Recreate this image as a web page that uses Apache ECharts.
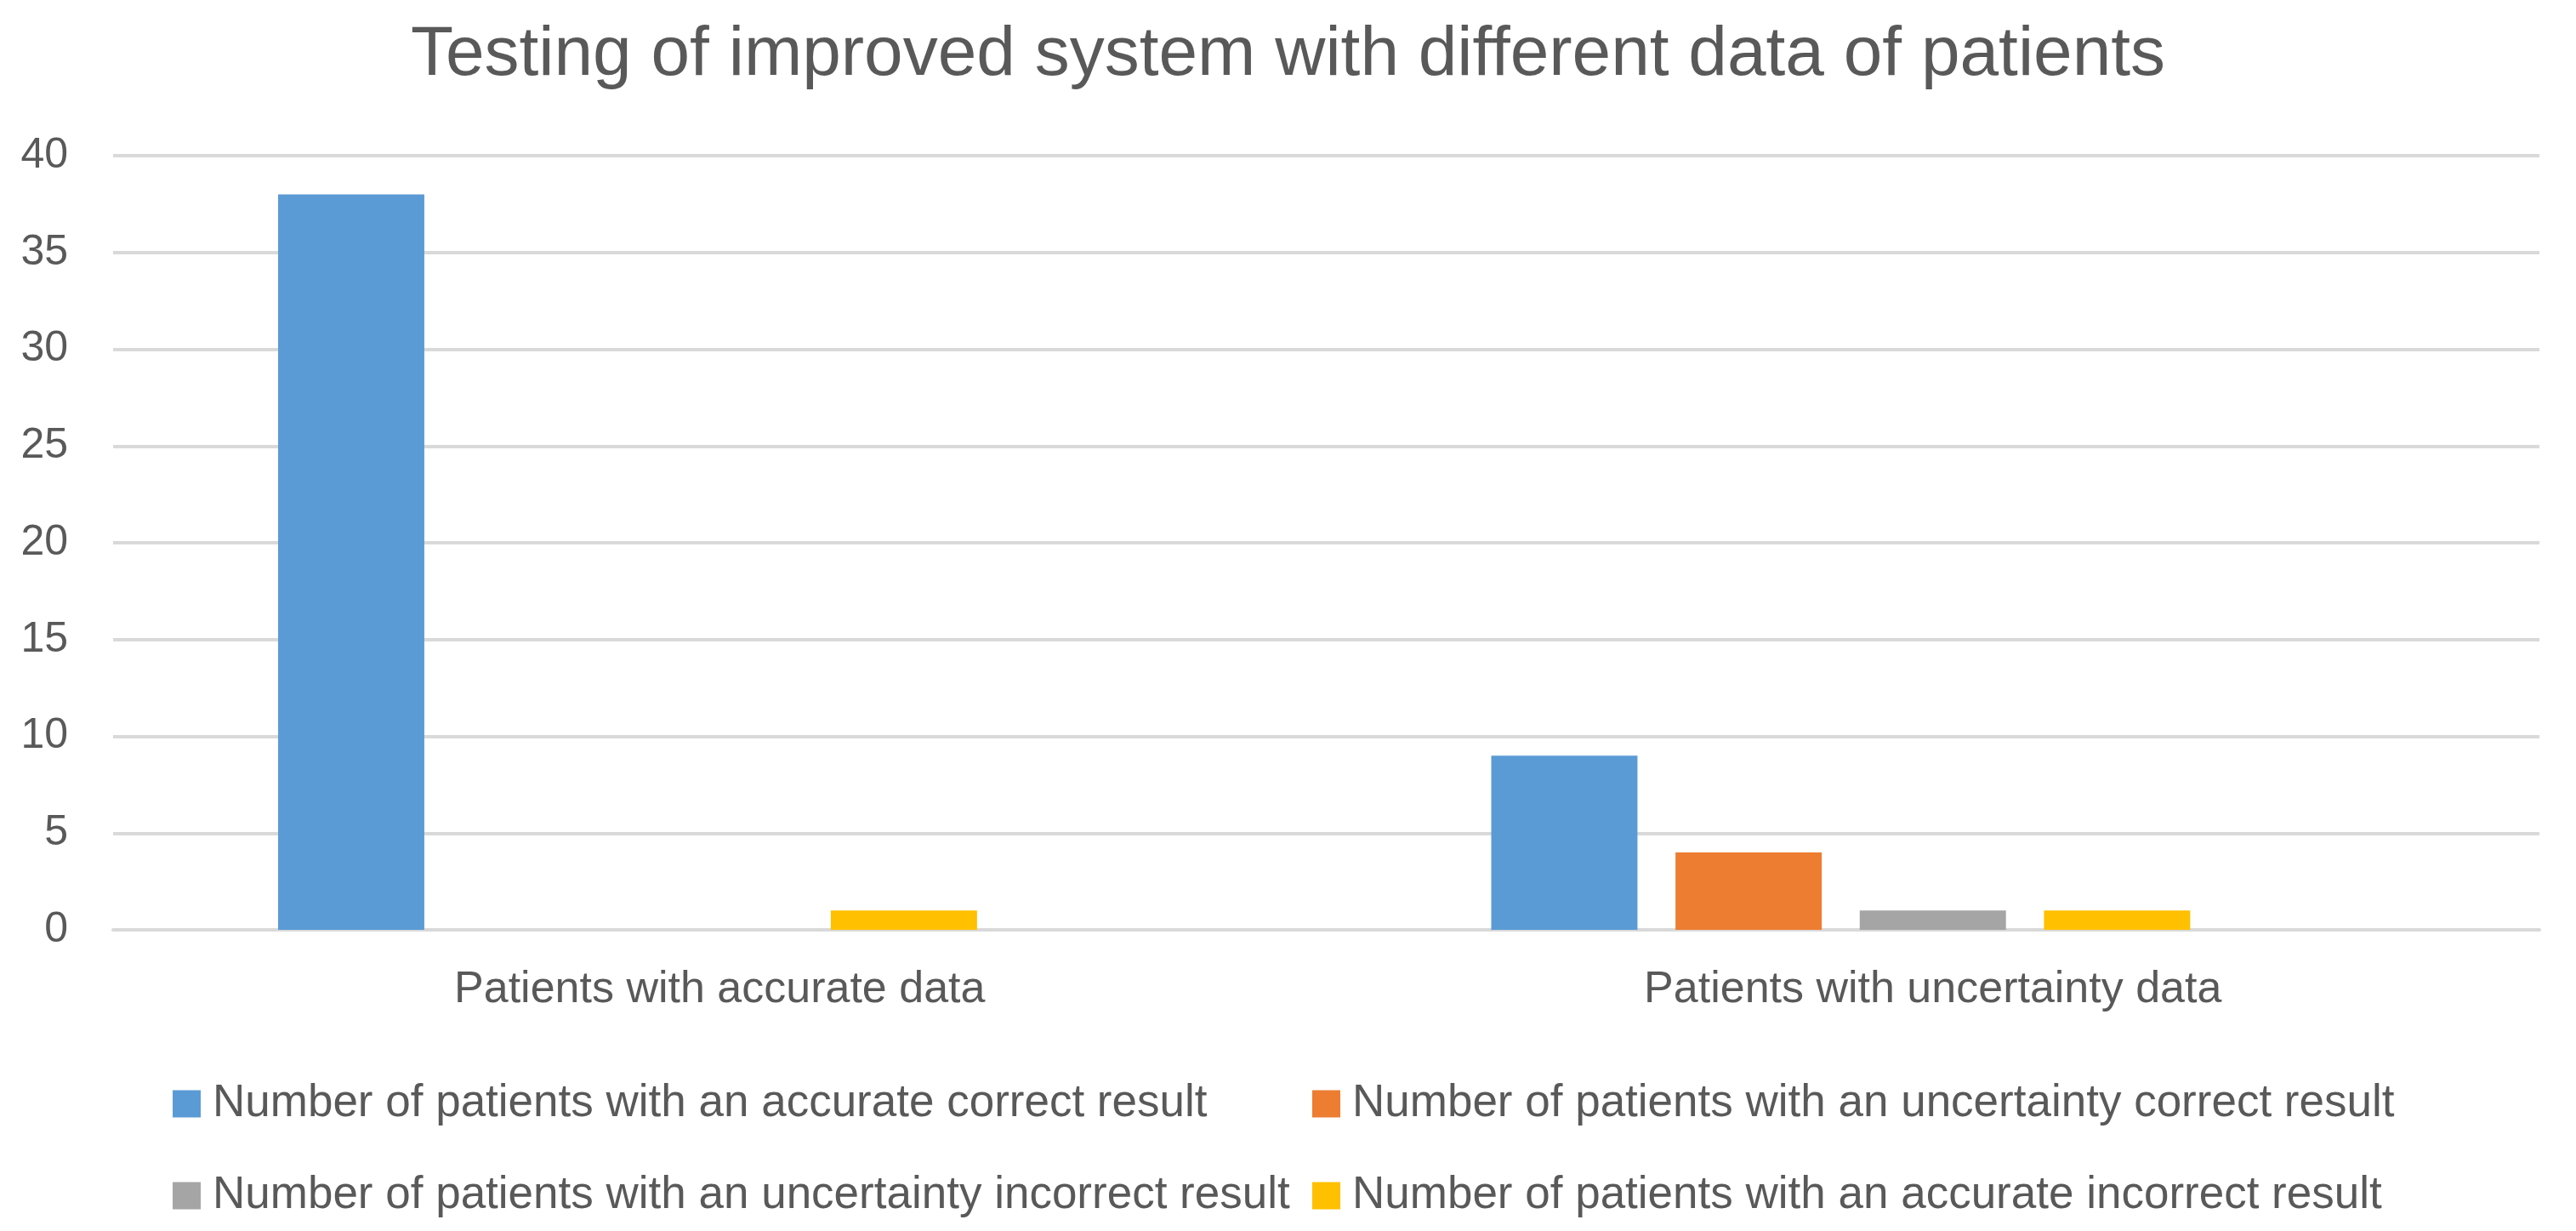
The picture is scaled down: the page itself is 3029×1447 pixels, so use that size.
<!DOCTYPE html>
<html>
<head>
<meta charset="utf-8">
<title>Testing of improved system with different data of patients</title>
<script src="https://cdn.jsdelivr.net/npm/echarts@6/dist/echarts.min.js"></script>
<style>
  html, body { margin: 0; padding: 0; background: #fff; }
  #chart-container { width: 3029px; height: 1447px; }
</style>
</head>
<body>
<div id="chart-container"></div>
<script>
const categories = ["Patients with accurate data", "Patients with uncertainty data"];
const accurateCorrect = [38, 9];
const uncertaintyCorrect = [0, 4];
const uncertaintyIncorrect = [0, 1];
const accurateIncorrect = [1, 1];
// the source sheet has a fifth, empty series that still takes a slot
const emptySeries = [null, null];
const yTicks = { min: 0, max: 40, interval: 5 };

const seriesNames = [
  "Number of patients with an accurate correct result",
  "Number of patients with an uncertainty correct result",
  "Number of patients with an uncertainty incorrect result",
  "Number of patients with an accurate incorrect result",
];
const colors = ["#5b9bd5", "#ed7d31", "#a5a5a5", "#ffc000"];

const FONT = "'Liberation Sans', Arial, sans-serif";
const TEXT = "#595959";

const chartContainer = document.getElementById("chart-container");
const myChart = echarts.init(chartContainer, null, { renderer: "canvas" });

const legendText = {
  color: TEXT,
  fontFamily: FONT,
  fontSize: 53,
  lineHeight: 53,
  padding: [0, 0, 0, 9],
};

const bar = (name, data, color) => ({
  name: name,
  type: "bar",
  data: data,
  itemStyle: { color: color },
  barGap: "26%",
  barCategoryGap: "27.2%",
  animation: false,
});

const option = {
  backgroundColor: "#fff",
  title: {
    text: "Testing of improved system with different data of patients",
    left: "center",
    top: 19,
    textStyle: {
      color: TEXT,
      fontFamily: FONT,
      fontSize: 82,
      fontWeight: "normal",
    },
  },
  legend: [
    {
      orient: "vertical",
      left: 198,
      top: 1266,
      itemWidth: 33,
      itemHeight: 32,
      itemGap: 55,
      icon: "rect",
      data: [seriesNames[0], seriesNames[2]],
      textStyle: legendText,
      selectedMode: false,
    },
    {
      orient: "vertical",
      left: 1538,
      top: 1266,
      itemWidth: 33,
      itemHeight: 32,
      itemGap: 55,
      icon: "rect",
      data: [seriesNames[1], seriesNames[3]],
      textStyle: legendText,
      selectedMode: false,
    },
  ],
  grid: {
    left: 133,
    right: 43,
    top: 183,
    bottom: 354,
    containLabel: false,
  },
  xAxis: {
    type: "category",
    data: categories,
    axisTick: { show: false },
    axisLine: { lineStyle: { color: "#d9d9d9", width: 4 } },
    axisLabel: {
      color: TEXT,
      fontFamily: FONT,
      fontSize: 52,
      margin: 45,
    },
  },
  yAxis: {
    type: "value",
    min: yTicks.min,
    max: yTicks.max,
    interval: yTicks.interval,
    axisLine: { show: false },
    axisTick: { show: false },
    splitLine: { lineStyle: { color: "#d9d9d9", width: 4 } },
    axisLabel: {
      color: TEXT,
      fontFamily: FONT,
      fontSize: 50,
      margin: 53,
    },
  },
  series: [
    bar(seriesNames[0], accurateCorrect, colors[0]),
    bar(seriesNames[1], uncertaintyCorrect, colors[1]),
    bar(seriesNames[2], uncertaintyIncorrect, colors[2]),
    bar(seriesNames[3], accurateIncorrect, colors[3]),
    bar("Series 5", emptySeries, "#4472c4"),
  ],
};

myChart.setOption(option);
</script>
</body>
</html>
